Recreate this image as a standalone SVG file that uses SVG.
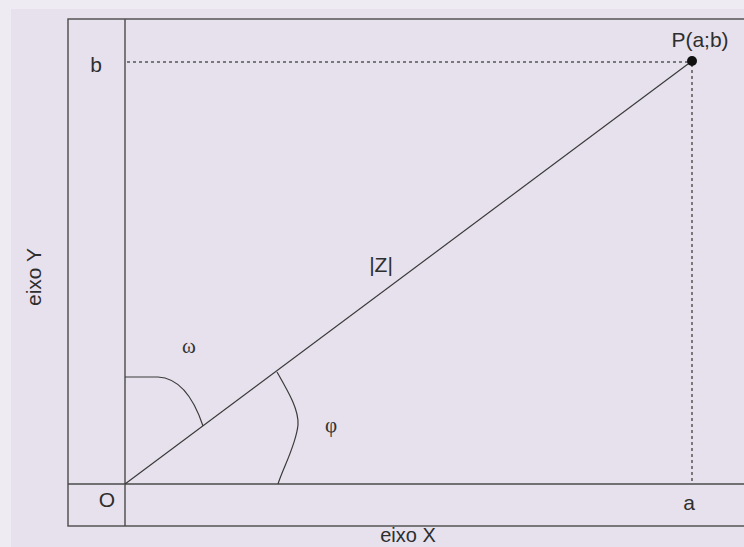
<svg xmlns="http://www.w3.org/2000/svg" width="744" height="547" viewBox="0 0 744 547">
<style>
.frame{fill:none;stroke:#4a4a4a;stroke-width:1.4}
.ln{fill:none;stroke:#3a3a3a;stroke-width:1.2}
.dash{fill:none;stroke:#555;stroke-width:1.5;stroke-dasharray:3 3}
.t{font-family:"Liberation Sans",Arial,sans-serif;font-size:21px;fill:#2e2e2e}
.g{font-family:"Liberation Serif","Times New Roman",serif;font-size:21px;fill:#333}
</style>
<rect x="0" y="0" width="744" height="547" fill="#e6e1ec"/>
<rect x="0" y="0" width="744" height="9" fill="#eeebf2"/>
<rect x="0" y="0" width="11" height="547" fill="#eeebf2"/>
<g id="frame">
<rect class="frame" x="68" y="19" width="690" height="507"/>
</g>
<g id="axes">
<line class="frame" x1="125" y1="19" x2="125" y2="526"/>
<line class="frame" x1="68" y1="484" x2="744" y2="484"/>
</g>
<g id="connectors">
<line class="dash" x1="127" y1="62" x2="690" y2="62"/>
<line class="dash" x1="692" y1="64" x2="692" y2="484"/>
<line class="ln" x1="125" y1="484" x2="692" y2="61"/>
<path class="ln" d="M125,377 L158,377 C178,378 193,396 203,426"/>
<path class="ln" d="M277,372 C289,393 299,410 298,425 C296,445 283,468 278,484"/>
</g>
<g id="point-P">
<circle cx="692" cy="61" r="5" fill="#111"/>
<text class="t" x="700" y="47" text-anchor="middle">P(a;b)</text>
</g>
<g id="labels">
<text class="t" x="96" y="72" text-anchor="middle">b</text>
<text class="t" x="107" y="507" text-anchor="middle">O</text>
<text class="t" x="689" y="510" text-anchor="middle">a</text>
<text class="t" x="381" y="272" text-anchor="middle">|Z|</text>
<text class="g" x="189" y="353" text-anchor="middle">ω</text>
<text class="g" x="331" y="432" text-anchor="middle">φ</text>
<text class="t" x="408" y="542" text-anchor="middle" style="font-size:20px">eixo X</text>
<text class="t" transform="translate(41,277) rotate(-90)" text-anchor="middle">eixo Y</text>
</g>
</svg>
